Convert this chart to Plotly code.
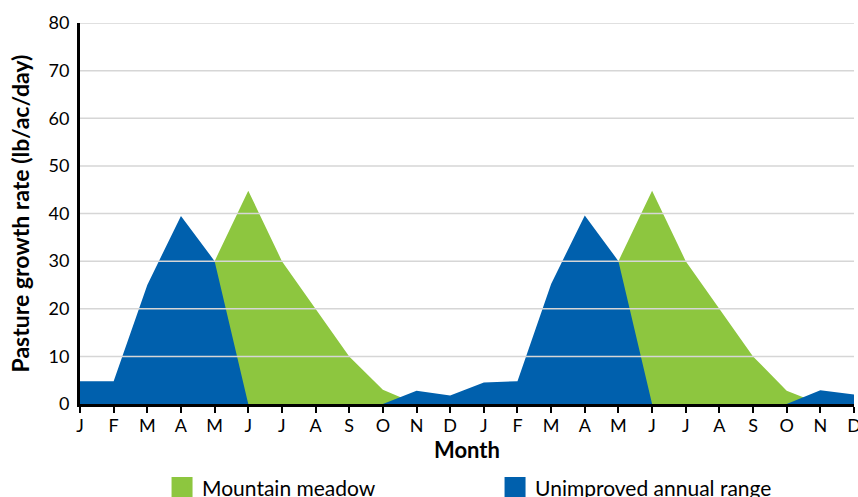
import plotly.graph_objects as go

months = ["J", "F", "M", "A", "M", "J", "J", "A", "S", "O", "N", "D",
          "J", "F", "M", "A", "M", "J", "J", "A", "S", "O", "N", "D"]
mountain_meadow = [0, 0, 0, 0, 30, 44.8, 30, 20, 10, 3, 0, 0,
                   0, 0, 0, 0, 30, 44.8, 30, 20, 10, 2.8, 0, 0]
unimproved_range = [4.8, 4.8, 25, 39.5, 30, 0, 0, 0, 0, 0, 2.8, 1.8,
                    4.5, 4.8, 25.2, 39.6, 30, 0, 0, 0, 0, 0, 2.9, 2.0]
y_ticks = [0, 10, 20, 30, 40, 50, 60, 70, 80]

GREEN = "#8DC63F"
BLUE = "#0060AD"
FONT = "Lato"

x = list(range(len(months)))

fig = go.Figure()
fig.add_trace(go.Scatter(x=x, y=mountain_meadow, mode="lines", fill="tozeroy",
                         fillcolor=GREEN, line=dict(width=0, color=GREEN),
                         showlegend=False, hoverinfo="skip"))
fig.add_trace(go.Scatter(x=x, y=unimproved_range, mode="lines", fill="tozeroy",
                         fillcolor=BLUE, line=dict(width=0, color=BLUE),
                         showlegend=False, hoverinfo="skip"))
# legend entries
fig.add_trace(go.Scatter(x=[None], y=[None], mode="markers", name="Mountain meadow",
                         marker=dict(symbol="square", size=16, color=GREEN,
                                     line=dict(width=5, color=GREEN))))
fig.add_trace(go.Scatter(x=[None], y=[None], mode="markers", name="Unimproved annual range",
                         marker=dict(symbol="square", size=16, color=BLUE,
                                     line=dict(width=5, color=BLUE))))

# gridlines drawn above the areas
for v in y_ticks[1:]:
    fig.add_shape(type="line", xref="paper", yref="y", x0=0, x1=1, y0=v, y1=v,
                  line=dict(color="#d6d6d6", width=1.5), layer="above")

fig.update_layout(
    width=858, height=497,
    margin=dict(l=80, r=4, t=23, b=93, autoexpand=False),
    paper_bgcolor="white", plot_bgcolor="white",
    font=dict(family=FONT, size=18, color="black"),
    showlegend=True,
    legend=dict(orientation="h", x=0.106, xanchor="left", y=-0.166, yanchor="top",
                font=dict(family=FONT, size=21, color="black"),
                entrywidth=288, entrywidthmode="pixels",
                itemsizing="trace", bgcolor="rgba(0,0,0,0)"),
    xaxis=dict(range=[0, 23], tickmode="array", tickvals=x, ticktext=months,
               showgrid=False, zeroline=False, showline=True, linecolor="black",
               linewidth=3, ticks="outside", ticklen=6, tickwidth=1.5,
               tickcolor="black", tickfont=dict(size=18), automargin=False,
               ticklabeloverflow="allow", ticklabelstandoff=-3,
               title=dict(text="<b>Month</b>", font=dict(size=22), standoff=8)),
    yaxis=dict(range=[0, 80], tickmode="array", tickvals=y_ticks,
               showgrid=False, zeroline=False, showline=True, linecolor="black",
               linewidth=3, ticks="", tickfont=dict(size=18), automargin=False,
               ticklabelstandoff=4,
               title=dict(text="<b>Pasture growth rate (lb/ac/day)</b>",
                          font=dict(size=23), standoff=13)),
)

fig.write_html("out.html", config={"displayModeBar": False},
               post_script="document.body.style.margin='0';document.body.style.padding='0';")
